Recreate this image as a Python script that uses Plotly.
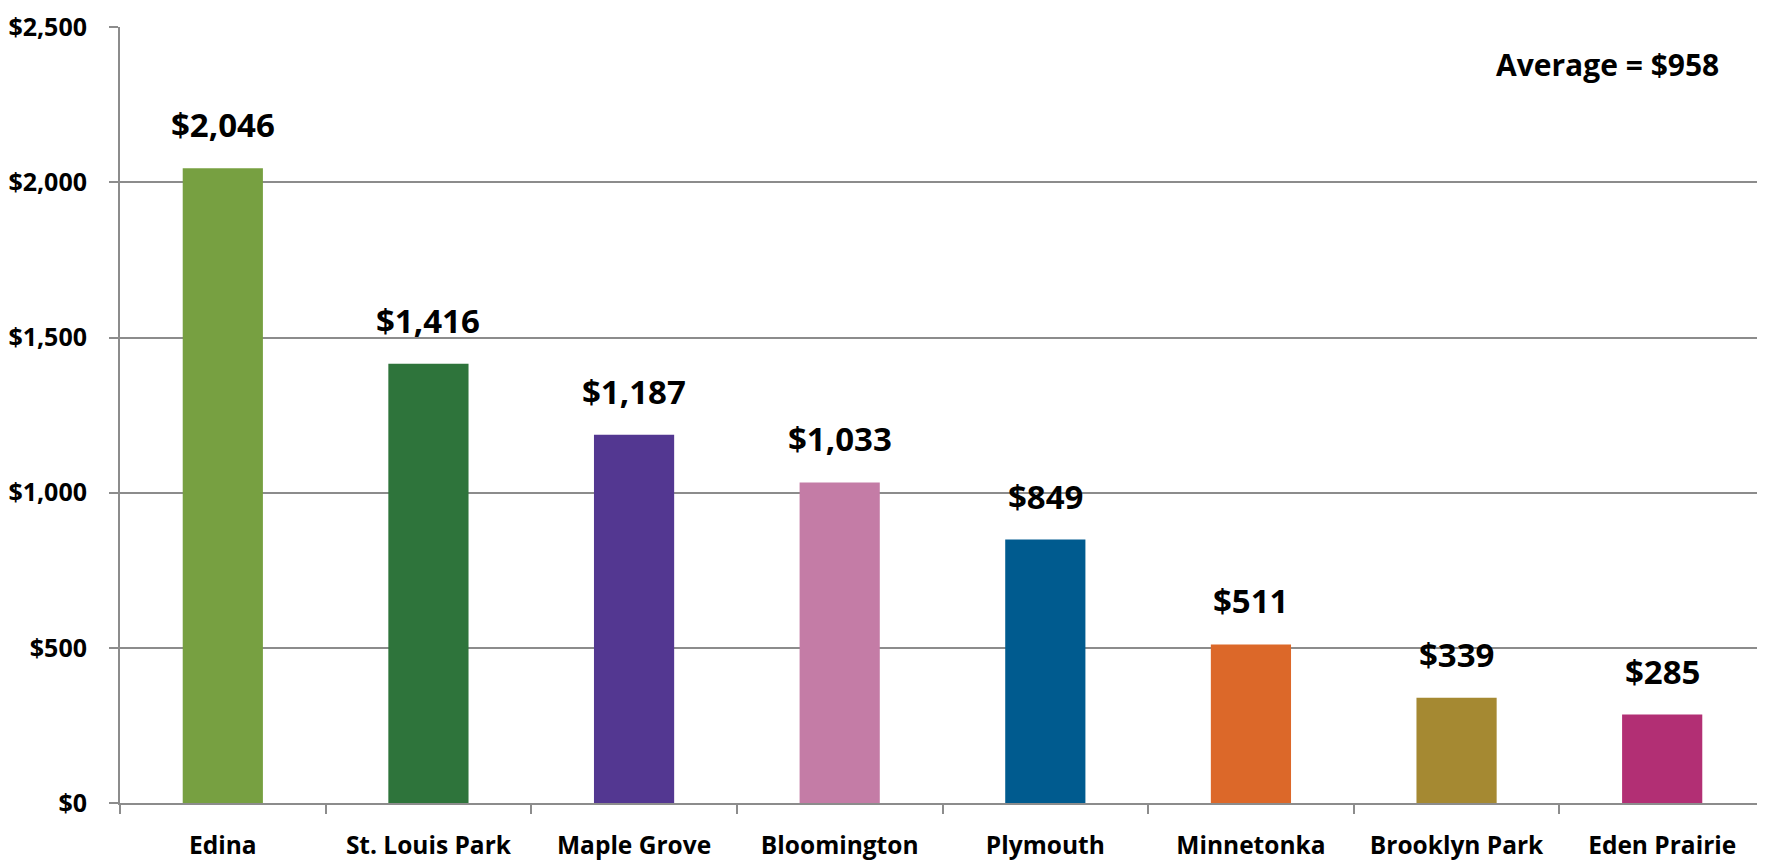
import plotly.graph_objects as go

cities = ["Edina", "St. Louis Park", "Maple Grove", "Bloomington", "Plymouth",
          "Minnetonka", "Brooklyn Park", "Eden Prairie"]
values = [2046, 1416, 1187, 1033, 849, 511, 339, 285]
colors = ["#77A041", "#2E743B", "#533791", "#C47CA6", "#005B8F",
          "#DC6829", "#A58932", "#B22F74"]
average_text = "Average = $958"
y_tickvals = [0, 500, 1000, 1500, 2000, 2500]
y_ticktext = ["$0", "$500", "$1,000", "$1,500", "$2,000", "$2,500"]

FONT = "Open Sans"
grid = "#8C8C8C"

fig = go.Figure()
fig.add_trace(go.Bar(x=cities, y=values, marker=dict(color=colors, line=dict(width=0)),
                     width=0.39, showlegend=False, hoverinfo="skip"))

for c, v in zip(cities, values):
    fig.add_annotation(x=c, y=v, text=f"${v:,}", showarrow=False, yanchor="bottom",
                       yshift=19, font=dict(family=FONT, size=33, color="#000000", weight="bold"))

fig.add_annotation(xref="paper", yref="paper", x=0.973, y=0.952, xanchor="right", yanchor="middle",
                   text=average_text, showarrow=False,
                   font=dict(family=FONT, size=30, color="#000000", weight="bold"))

fig.update_layout(
    width=1757, height=854,
    margin=dict(l=112, r=0, t=19, b=59, autoexpand=False),
    paper_bgcolor="white", plot_bgcolor="white",
    bargap=0.61,
    font=dict(family=FONT, color="#000000"),
)
fig.update_xaxes(
    type="category", showline=True, linecolor=grid, linewidth=2, automargin=False,
    ticks="outside", tickson="boundaries", ticklen=9, tickwidth=2, tickcolor=grid,
    tickfont=dict(family=FONT, size=24.5, color="#000000", weight="bold"), showgrid=False,
    ticklabelstandoff=20,
)
fig.update_yaxes(
    range=[0, 2501], tickvals=y_tickvals, ticktext=y_ticktext, automargin=False,
    showline=True, linecolor=grid, linewidth=2,
    ticks="outside", ticklen=9, tickwidth=2, tickcolor=grid,
    showgrid=True, gridcolor=grid, gridwidth=2, zeroline=False,
    tickfont=dict(family=FONT, size=25, color="#000000", weight="bold"),
    ticklabelstandoff=17, ticklabeloverflow="allow",
)

fig.write_html("out.html")
